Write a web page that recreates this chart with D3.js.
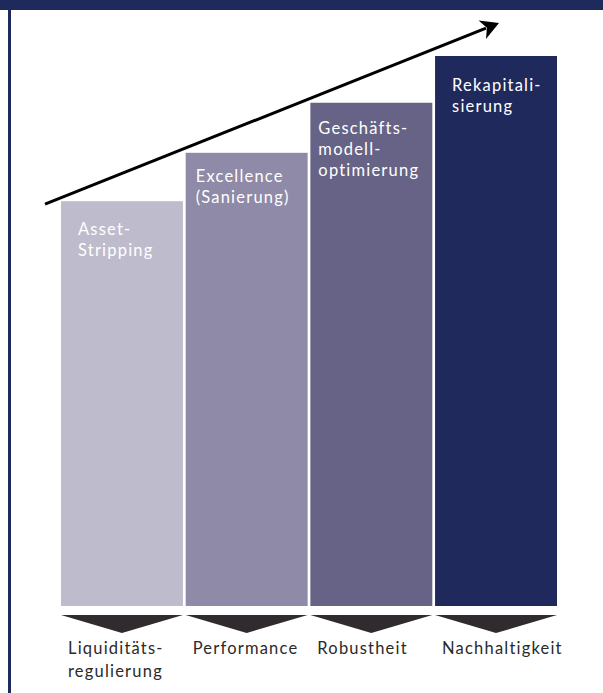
<!DOCTYPE html>
<html>
<head>
<meta charset="utf-8">
<script src="https://cdn.jsdelivr.net/npm/d3@7"></script>
<style>
  body { margin: 0; background: #fff; }
  text { font-family: Lato, "Open Sans", sans-serif; letter-spacing: 1.2px; }
</style>
</head>
<body>
<svg id="chart"></svg>
<script>
// stages (bottom labels), what happens inside each bar, and relative level
const stages = ["Liquiditäts-\nregulierung", "Performance", "Robustheit", "Nachhaltigkeit"];
const measures = ["Asset-\nStripping", "Excellence\n(Sanierung)", "Geschäfts-\nmodell-\noptimierung", "Rekapitali-\nsierung"];
const levels = [73.6, 82.4, 91.5, 100];

const barColors = ["#bebbcd", "#8e8aa7", "#666386", "#1f295b"];
const innerPad = [17, 10, 8, 17];
const innerTop = [34, 29, 31, 35];

const width = 603, height = 693;
const baseY = 606;

const svg = d3.select("#chart")
    .attr("width", width)
    .attr("height", height);

// frame: navy top band and left rule
svg.append("rect")
    .attr("x", 0).attr("y", 0)
    .attr("width", width).attr("height", 10)
    .attr("fill", "#1e2a5c");
svg.append("rect")
    .attr("x", 8).attr("y", 0)
    .attr("width", 3).attr("height", height)
    .attr("fill", "#1e2a5c");

const xScale = d3.scaleBand()
    .domain(stages)
    .range([61, 557])
    .paddingInner(0.022)
    .paddingOuter(0);

const yScale = d3.scaleLinear()
    .domain([0, 100])
    .range([baseY, 56]);

const bars = svg.append("g");
bars.selectAll("rect")
    .data(stages)
    .join("rect")
    .attr("x", d => xScale(d))
    .attr("y", (d, i) => yScale(levels[i]))
    .attr("width", xScale.bandwidth())
    .attr("height", (d, i) => baseY - yScale(levels[i]))
    .attr("fill", (d, i) => barColors[i]);

// text inside bars
bars.selectAll("text")
    .data(measures)
    .join("text")
    .attr("x", (d, i) => xScale(stages[i]) + innerPad[i])
    .attr("y", (d, i) => yScale(levels[i]) + innerTop[i])
    .attr("fill", "#fff")
    .attr("font-size", 16.5)
    .each(function (d) {
        const t = d3.select(this);
        d.split("\n").forEach((line, k) => {
            t.append("tspan")
                .attr("x", t.attr("x"))
                .attr("dy", k === 0 ? 0 : 21)
                .text(line);
        });
    });

// downward chevrons under bars
const triTop = 615, triTip = 633;
svg.append("g").selectAll("path")
    .data(stages)
    .join("path")
    .attr("d", d => {
        const x0 = xScale(d), x1 = x0 + xScale.bandwidth();
        return `M${x0},${triTop}L${x1},${triTop}L${(x0 + x1) / 2},${triTip}Z`;
    })
    .attr("fill", "#2f2b2f");

// stage labels
svg.append("g").selectAll("text")
    .data(stages)
    .join("text")
    .attr("x", d => xScale(d) + 7)
    .attr("y", 654)
    .attr("fill", "#2a2a2a")
    .attr("font-size", 16.5)
    .each(function (d) {
        const t = d3.select(this);
        d.split("\n").forEach((line, k) => {
            t.append("tspan")
                .attr("x", t.attr("x"))
                .attr("dy", k === 0 ? 0 : 23)
                .text(line);
        });
    });

// rising arrow above the steps
const x0 = 45, y0 = yScale(levels[0]) + 3;
const x1 = 499, y1 = 23;
const ang = Math.atan2(y1 - y0, x1 - x0);
const headLen = 18, headW = 10;
const bx = x1 - headLen * Math.cos(ang), by = y1 - headLen * Math.sin(ang);
const nx = -Math.sin(ang), ny = Math.cos(ang);
svg.append("line")
    .attr("x1", x0).attr("y1", y0)
    .attr("x2", bx + 4 * Math.cos(ang)).attr("y2", by + 4 * Math.sin(ang))
    .attr("stroke", "#000")
    .attr("stroke-width", 3);
const notch = 5;
svg.append("path")
    .attr("d", `M${x1},${y1}`
        + `L${bx + nx * headW},${by + ny * headW}`
        + `L${bx + notch * Math.cos(ang)},${by + notch * Math.sin(ang)}`
        + `L${bx - nx * headW},${by - ny * headW}Z`)
    .attr("fill", "#000");
</script>
</body>
</html>
